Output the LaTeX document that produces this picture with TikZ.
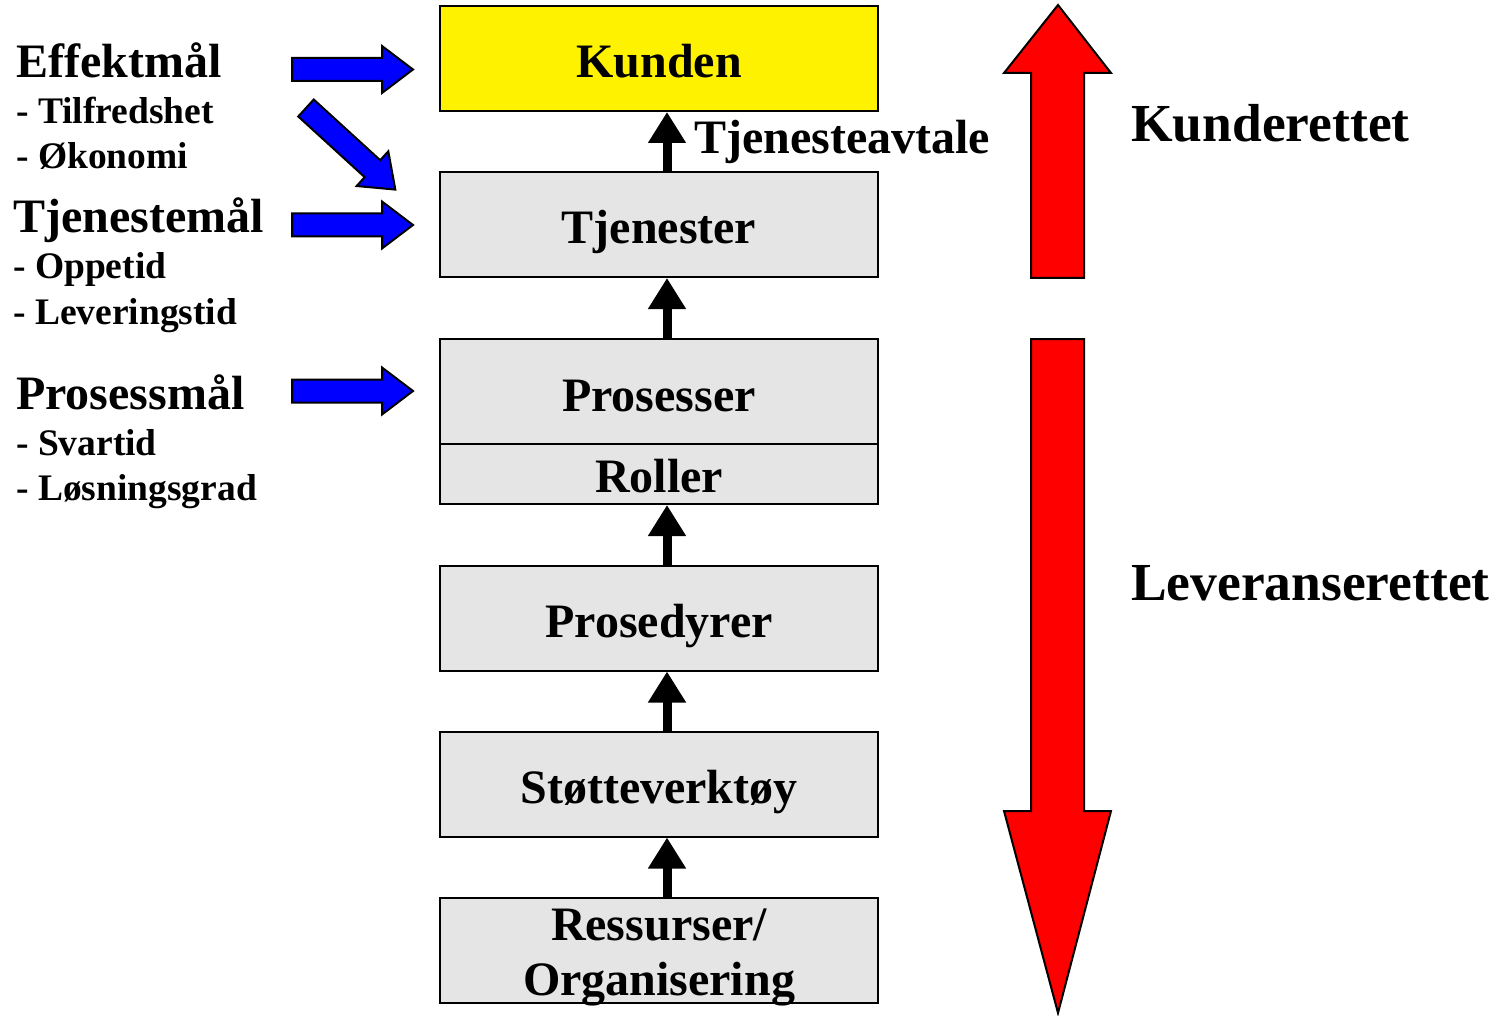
\documentclass[tikz,border=0pt]{standalone}
\usepackage{fontspec}
\setmainfont{Liberation Serif}
\usetikzlibrary{arrows.meta}
\begin{document}
\begin{tikzpicture}[x=1pt,y=-1pt,
  box/.style={draw=black,line width=2pt,minimum width=438pt,minimum height=105pt,inner sep=0pt},
  graybox/.style={box,fill=black!10},
  btxt/.style={inner sep=0pt,anchor=base,font=\fontsize{48}{50}\selectfont\bfseries},
  txt/.style={inner sep=0pt,anchor=base west},
  big/.style={txt,font=\fontsize{48}{50}\selectfont\bfseries},
  small/.style={txt,font=\fontsize{37.5}{40}\selectfont\bfseries},
  huge/.style={txt,font=\fontsize{53.5}{56}\selectfont\bfseries},
  conn/.style={line width=9pt,-{Triangle[width=36pt,length=31pt]}},
  bluearr/.style={fill=blue,draw=black,line width=2pt,line join=miter},
  redarr/.style={fill=red,draw=black,line width=2pt,line join=miter},
  blockarr/.pic={\draw[bluearr] (0,-11.5) -- (90,-11.5) -- (90,-23.5) -- (121,0) -- (90,23.5) -- (90,11.5) -- (0,11.5) -- cycle;}
]
\useasboundingbox (0,0) rectangle (1496,1016);

% boxes
\node[box,fill=yellow] (ku) at (659,58.5) {};
\node[btxt] (kut) at (659,78) {Kunden};
\node[graybox] (tj) at (659,224.5) {};
\node[btxt] (tjt) at (659,244) {Tjenester};
\node[graybox] (pr) at (659,391.5) {};
\node[btxt] (prt) at (659,411) {Prosesser};
\node[graybox,minimum height=60pt] (ro) at (659,474) {};
\node[btxt] (rot) at (659,492) {Roller};
\node[graybox] (pd) at (659,618) {};
\node[btxt] (pdt) at (659,637) {Prosedyrer};
\node[graybox] (st) at (659,784) {};
\node[btxt] (stt) at (659,803) {Støtteverktøy};
\node[graybox] (re) at (659,950.5) {};
\node[btxt] (ret1) at (659,940) {Ressurser/};
\node[btxt] (ret2) at (659,995) {Organisering};

% black connectors
\draw[conn] ([xshift=8pt]tj.north) -- ([xshift=8pt]ku.south);
\draw[conn] ([xshift=8pt]pr.north) -- ([xshift=8pt]tj.south);
\draw[conn] ([xshift=8pt]pd.north) -- ([xshift=8pt]ro.south);
\draw[conn] ([xshift=8pt]st.north) -- ([xshift=8pt]pd.south);
\draw[conn] ([xshift=8pt]re.north) -- ([xshift=8pt]st.south);

\node[big] (avt) at (694,154) {Tjenesteavtale};

% left labels
\node[big] (eff) at (16,78) {Effektmål};
\node[small] (eff1) at (16,124) {- Tilfredshet};
\node[small] (eff2) at (16,169) {- Økonomi};
\node[big] (tjm) at (13,233) {Tjenestemål};
\node[small] (tjm1) at (13,279) {- Oppetid};
\node[small] (tjm2) at (13,324) {- Leveringstid};
\node[big] (prm) at (16,409) {Prosessmål};
\node[small] (prm1) at (16,455) {- Svartid};
\node[small] (prm2) at (16,500) {- Løsningsgrad};

% blue arrows
\pic at (292,69.5) {blockarr};
\pic[rotate=-42.4] at (306,108) {blockarr};
\pic at (292,225) {blockarr};
\pic at (292,391) {blockarr};

% red arrows
\draw[redarr] (1031,278) -- (1031,73) -- (1004,73) -- (1058,5) -- (1111,73) -- (1084,73) -- (1084,278) -- cycle;
\draw[redarr] (1031,339) -- (1031,811) -- (1004,811) -- (1058,1013) -- (1111,811) -- (1084,811) -- (1084,339) -- cycle;

\node[huge] (kr) at (1131,142) {Kunderettet};
\node[huge] (lr) at (1131,600) {Leveranserettet};
\end{tikzpicture}
\end{document}
